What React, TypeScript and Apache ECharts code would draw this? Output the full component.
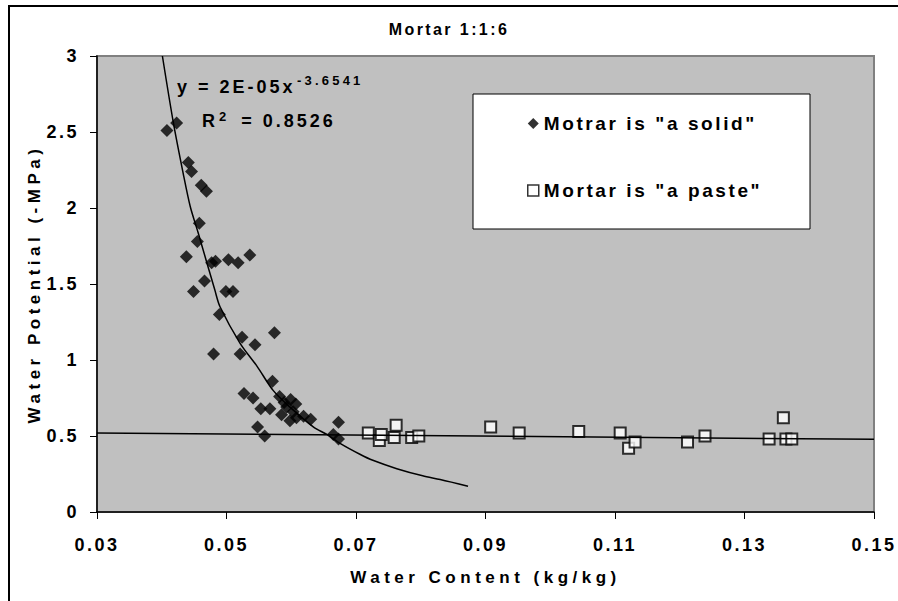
import React, { useEffect, useRef } from "react";
import * as echarts from "echarts";

// ---- data ----
const solidX = [0.0408, 0.0423, 0.0441, 0.0446, 0.0461, 0.0469, 0.0458, 0.0455, 0.0438, 0.0477, 0.0483, 0.0503, 0.0518, 0.0536, 0.0466, 0.0449, 0.0499, 0.051, 0.0489, 0.0524, 0.0544, 0.0574, 0.048, 0.0521, 0.0571, 0.0527, 0.0541, 0.0553, 0.0567, 0.0582, 0.0599, 0.0593, 0.0603, 0.0585, 0.0598, 0.0608, 0.0619, 0.063, 0.0673, 0.0548, 0.0559, 0.0665, 0.0673, 0.0589, 0.0607];
const solidY = [2.51, 2.56, 2.3, 2.24, 2.15, 2.11, 1.9, 1.78, 1.68, 1.64, 1.65, 1.66, 1.64, 1.69, 1.52, 1.45, 1.45, 1.45, 1.3, 1.15, 1.1, 1.18, 1.04, 1.04, 0.86, 0.78, 0.75, 0.68, 0.68, 0.76, 0.74, 0.69, 0.66, 0.64, 0.6, 0.62, 0.63, 0.61, 0.59, 0.56, 0.5, 0.51, 0.48, 0.72, 0.71];

const pasteX = [0.0719, 0.0736, 0.0739, 0.0762, 0.0759, 0.0786, 0.0797, 0.0908, 0.0952, 0.1044, 0.1108, 0.1121, 0.1131, 0.1212, 0.1239, 0.1338, 0.136, 0.1364, 0.1373];
const pasteY = [0.52, 0.47, 0.51, 0.57, 0.49, 0.49, 0.5, 0.56, 0.52, 0.53, 0.52, 0.42, 0.46, 0.46, 0.5, 0.48, 0.62, 0.48, 0.48];

// power trend line
const powerFitX = [0.0401, 0.0418, 0.0433, 0.0444, 0.0456, 0.0482, 0.049, 0.0521, 0.0547, 0.0572, 0.0598, 0.0634, 0.0655, 0.0676, 0.0706, 0.0726, 0.0763, 0.0803, 0.083, 0.0873];
const powerFitY = [3.0, 2.56, 2.23, 2.01, 1.84, 1.46, 1.35, 1.11, 0.96, 0.8, 0.69, 0.56, 0.51, 0.45, 0.38, 0.34, 0.285, 0.238, 0.214, 0.17];

// linear trend line for the paste points
const linearFitX = [0.03, 0.15];
const linearFitY = [0.52, 0.478];

const xTicks = [0.03, 0.05, 0.07, 0.09, 0.11, 0.13, 0.15];
const yTicks = [0, 0.5, 1, 1.5, 2, 2.5, 3];

const titleText = "Mortar 1:1:6";
const xName = "Water Content (kg/kg)";
const yName = "Water Potential (-MPa)";
const solidName = 'Motrar is "a solid"';
const pasteName = 'Mortar is "a paste"';
const eqMain = "y = 2E-05x";
const eqExp = "-3.6541";
const r2Text = "R{sup|2} = 0.8526";

const FONT = '"Liberation Sans", Arial, sans-serif';

const zip = (xs: number[], ys: number[]) => xs.map((x, i) => [x, ys[i]]);

export default function App() {
  const ref = useRef<HTMLDivElement>(null);
  useEffect(() => {
    const el = ref.current!;
    const chart = echarts.init(el, null, { renderer: "svg" });
    const option: any = {
      animation: false,
      backgroundColor: "#ffffff",
      title: {
        text: titleText,
        left: "center",
        top: 16,
        textStyle: { fontFamily: FONT, fontWeight: "bold", fontSize: 16, color: "#000" },
      },
      grid: {
        left: 97,
        top: 56,
        right: 24,
        bottom: 89,
        show: true,
        backgroundColor: "#C0C0C0",
        borderColor: "#808080",
        borderWidth: 2,
        containLabel: false,
        outerBoundsMode: "none",
      },
      xAxis: {
        type: "value",
        min: xTicks[0],
        max: xTicks[xTicks.length - 1],
        interval: xTicks[1] - xTicks[0],
        name: xName,
        nameLocation: "middle",
        nameGap: 57,
        nameTextStyle: { fontFamily: FONT, fontWeight: "bold", fontSize: 17, color: "#000" },
        axisLine: { show: true, onZero: false, lineStyle: { color: "#000", width: 1.5 } },
        axisTick: { show: true, length: 7, lineStyle: { color: "#000", width: 1 } },
        axisLabel: {
          margin: 24,
          fontFamily: FONT,
          fontWeight: "bold",
          fontSize: 18,
          color: "#000",
          formatter: (v: number) => v.toFixed(2),
        },
        splitLine: { show: false },
      },
      yAxis: {
        type: "value",
        min: yTicks[0],
        max: yTicks[yTicks.length - 1],
        interval: yTicks[1] - yTicks[0],
        name: yName,
        nameLocation: "middle",
        nameGap: 50,
        nameTextStyle: { fontFamily: FONT, fontWeight: "bold", fontSize: 17, color: "#000" },
        axisLine: { show: true, onZero: false, lineStyle: { color: "#000", width: 1.5 } },
        axisTick: { show: true, length: 7, lineStyle: { color: "#000", width: 1 } },
        axisLabel: {
          margin: 18,
          fontFamily: FONT,
          fontWeight: "bold",
          fontSize: 18,
          color: "#000",
          formatter: (v: number) => String(v),
        },
        splitLine: { show: false },
      },
      legend: {
        show: true,
        z: 100,
        zlevel: 0,
        orient: "vertical",
        left: 527,
        top: 114,
        itemWidth: 11,
        itemHeight: 11,
        itemGap: 48,
        padding: 0,
        backgroundColor: "transparent",
        borderWidth: 0,
        textStyle: { fontFamily: FONT, fontWeight: "bold", fontSize: 19, color: "#000" },
        data: [
          { name: solidName, icon: "diamond", itemStyle: { color: "#000", borderWidth: 0 } },
          { name: pasteName, icon: "rect", itemStyle: { color: "#fff", borderColor: "#000", borderWidth: 1.5 } },
        ],
      },
      graphic: {
        z: 5,
        elements: [
          {
            type: "rect",
            silent: true,
            shape: { x: 9, y: 6, width: 1200, height: 900 },
            style: { fill: "none", stroke: "#000", lineWidth: 2 },
          },
          {
            type: "rect",
            silent: true,
            shape: { x: 473, y: 94, width: 337, height: 135 },
            style: { fill: "#fff", stroke: "#000", lineWidth: 1 },
          },
          {
            type: "text",
            x: 177,
            y: 87,
            style: {
              text: eqMain,
              fill: "#000",
              font: `bold 18px ${FONT}`,
              textAlign: "left",
              verticalAlign: "middle",
            },
          },
          {
            type: "text",
            x: 297,
            y: 80,
            style: {
              text: eqExp,
              fill: "#000",
              font: `bold 13px ${FONT}`,
              textAlign: "left",
              verticalAlign: "middle",
            },
          },
          {
            type: "text",
            x: 202,
            y: 121,
            style: {
              text: r2Text,
              fill: "#000",
              font: `bold 18px ${FONT}`,
              textAlign: "left",
              verticalAlign: "middle",
              rich: {
                sup: { font: `bold 13px ${FONT}`, fill: "#000", verticalAlign: "top", padding: [0, 7, 10, 4] },
              },
            },
          },
        ],
      },
      series: [
        {
          name: solidName,
          type: "scatter",
          symbol: "diamond",
          symbolSize: 13,
          itemStyle: { color: "#000" },
          data: zip(solidX, solidY),
          z: 3,
        },
        {
          name: pasteName,
          type: "scatter",
          symbol: "rect",
          symbolSize: 11,
          itemStyle: { color: "#fff", borderColor: "#000", borderWidth: 2 },
          data: zip(pasteX, pasteY),
          z: 3,
        },
        {
          name: "power trend",
          type: "line",
          showSymbol: false,
          symbol: "none",
          smooth: 0.3,
          clip: true,
          lineStyle: { color: "#000", width: 1.5 },
          data: zip(powerFitX, powerFitY),
          z: 4,
        },
        {
          name: "linear trend",
          type: "line",
          showSymbol: false,
          symbol: "none",
          clip: true,
          lineStyle: { color: "#000", width: 1.5 },
          data: zip(linearFitX, linearFitY),
          z: 4,
        },
      ],
    };
    chart.setOption(option);

    const spacingFor = (s: string): number => {
      if (s === titleText) return 2.4;
      if (s === xName || s === yName) return 4.5;
      if (s === solidName || s === pasteName) return 2.6;
      if (/^[0-9.]+$/.test(s)) return 2.5;
      if (s === eqMain) return 3;
      if (s === eqExp) return 3.2;
      if (s.indexOf("0.8526") >= 0) return 3;
      return 0;
    };
    const applySpacing = () => {
      el.querySelectorAll("text").forEach((t) => {
        const ls = spacingFor((t.textContent || "").trim());
        if (ls) (t as any).style.letterSpacing = ls + "px";
      });
    };
    applySpacing();
    chart.on("finished", applySpacing);
    const timer = setTimeout(applySpacing, 50);
    return () => {
      clearTimeout(timer);
      chart.dispose();
    };
  }, []);
  return (
    <div
      ref={ref}
      style={{ position: "fixed", left: 0, top: 0, width: 898, height: 601, background: "#fff" }}
    />
  );
}
